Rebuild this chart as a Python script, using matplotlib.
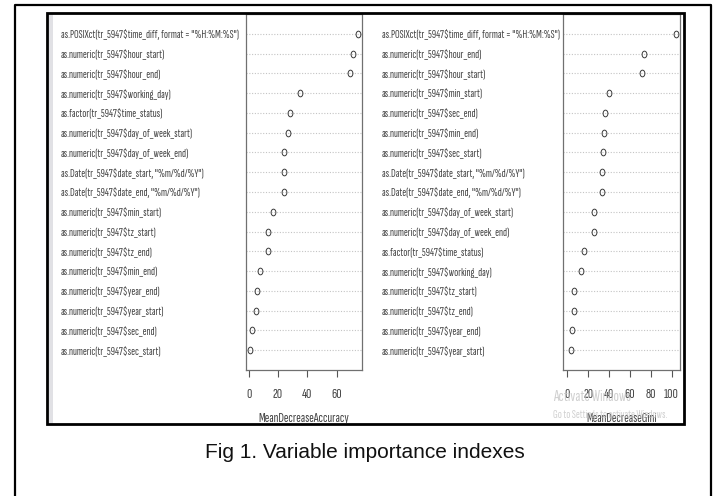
import matplotlib
matplotlib.use("Agg")
import matplotlib.pyplot as plt
import numpy as np
from matplotlib.patches import Rectangle
from matplotlib.lines import Line2D
from matplotlib.markers import MarkerStyle
from matplotlib.transforms import Affine2D, Bbox, TransformedBbox

# data (top row first)
acc_labels = [
    'as.POSIXct(tr_5947$time_diff, format = "%H:%M:%S")',
    'as.numeric(tr_5947$hour_start)',
    'as.numeric(tr_5947$hour_end)',
    'as.numeric(tr_5947$working_day)',
    'as.factor(tr_5947$time_status)',
    'as.numeric(tr_5947$day_of_week_start)',
    'as.numeric(tr_5947$day_of_week_end)',
    'as.Date(tr_5947$date_start, "%m/%d/%Y")',
    'as.Date(tr_5947$date_end, "%m/%d/%Y")',
    'as.numeric(tr_5947$min_start)',
    'as.numeric(tr_5947$tz_start)',
    'as.numeric(tr_5947$tz_end)',
    'as.numeric(tr_5947$min_end)',
    'as.numeric(tr_5947$year_end)',
    'as.numeric(tr_5947$year_start)',
    'as.numeric(tr_5947$sec_end)',
    'as.numeric(tr_5947$sec_start)',
]
acc_values = [74.4, 71.2, 68.9, 35.0, 28.0, 27.0, 24.3, 24.3, 23.9,
              16.8, 13.4, 13.0, 7.9, 5.7, 5.0, 2.0, 1.1]
acc_ticks = [0, 20, 40, 60]

gini_labels = [
    'as.POSIXct(tr_5947$time_diff, format = "%H:%M:%S")',
    'as.numeric(tr_5947$hour_end)',
    'as.numeric(tr_5947$hour_start)',
    'as.numeric(tr_5947$min_start)',
    'as.numeric(tr_5947$sec_end)',
    'as.numeric(tr_5947$min_end)',
    'as.numeric(tr_5947$sec_start)',
    'as.Date(tr_5947$date_start, "%m/%d/%Y")',
    'as.Date(tr_5947$date_end, "%m/%d/%Y")',
    'as.numeric(tr_5947$day_of_week_start)',
    'as.numeric(tr_5947$day_of_week_end)',
    'as.factor(tr_5947$time_status)',
    'as.numeric(tr_5947$working_day)',
    'as.numeric(tr_5947$tz_start)',
    'as.numeric(tr_5947$tz_end)',
    'as.numeric(tr_5947$year_end)',
    'as.numeric(tr_5947$year_start)',
]
gini_values = [103.9, 74.0, 71.4, 39.6, 36.4, 35.0, 33.8, 33.1, 32.9,
               26.0, 25.3, 16.2, 13.0, 6.5, 6.3, 4.0, 3.9]
gini_ticks = [0, 20, 40, 60, 80, 100]

W, H = 715, 496
COND = ['Sofia Sans Extra Condensed', 'Roboto Condensed', 'DejaVu Sans']
GREY = '#444444'

def box(x0, y0, x1, y1):
    return [x0 / W, 1 - y1 / H, (x1 - x0) / W, (y1 - y0) / H]

fig = plt.figure(figsize=(W / 100, H / 100), dpi=100)

# screenshot frame
clip = TransformedBbox(Bbox.from_extents(47 / W, 1 - 423 / H, 684 / W, 1 - 12 / H), fig.transFigure)
fig.patches.append(Rectangle((48.5 / W, 1 - 423 / H), 4.5 / W, 410 / H, transform=fig.transFigure,
                             facecolor='#e1e1e5', edgecolor='none', zorder=0))

circle = MarkerStyle('o', fillstyle='none', transform=Affine2D().scale(0.72, 1.0))

def panel(rect, labels, values, ticks, xmin, xlabel, pad):
    ax = fig.add_axes(rect)
    n = len(values)
    rows = np.arange(n, 0, -1)
    lo = xmin if xmin is not None else min(values)
    hi = max(values)
    ext = 0.04 * (hi - lo)
    ax.set_xlim(lo - ext, hi + ext)
    ax.set_ylim(0, n + 1)
    ax.hlines(rows, lo - ext, hi + ext, colors='#c4c4c4', linestyles=(0, (1, 1.5)), lw=0.8)
    ax.plot(values, rows, linestyle='none', marker=circle, ms=4.8, mew=0.7, color='#3a3a3a')
    ax.set_yticks(rows, labels, ha='left', family=COND, fontsize=8.5, color=GREY)
    ax.tick_params(axis='y', length=0, pad=pad)
    ax.set_xticks(ticks, [str(t) for t in ticks], family=COND, fontsize=10.5, color=GREY)
    ax.tick_params(axis='x', length=5, width=0.8, color='#555555', direction='out', pad=8)
    for s in ax.spines.values():
        s.set_color('#707070')
        s.set_linewidth(0.9)
    lab = ax.set_xlabel(xlabel, family=COND, fontsize=10, color=GREY, labelpad=8)
    lab.set_clip_on(True)
    lab.set_clip_box(clip)
    return ax

panel(box(246, 14, 362, 370), acc_labels, acc_values, acc_ticks, None,
      'MeanDecreaseAccuracy', (246 - 61) * 0.72)
panel(box(563, 14, 680, 370), gini_labels, gini_values, gini_ticks, 0,
      'MeanDecreaseGini', (563 - 382) * 0.72)

# windows watermark over the right axis
fig.text(553 / W, 1 - 401 / H, 'Activate Windows', family=COND, fontsize=11.5,
         color='#c4c4c4', alpha=0.8, zorder=5)
fig.text(553 / W, 1 - 418 / H, 'Go to Settings to activate Windows.', family=COND, fontsize=8.5,
         color='#c4c4c4', alpha=0.8, zorder=5)

# frames
fig.patches.append(Rectangle((47 / W, 1 - 423.5 / H), 637 / W, 411 / H, transform=fig.transFigure,
                             facecolor='none', edgecolor='black', lw=2.0, zorder=10))
fig.lines.append(Line2D([15 / W, 15 / W, 711 / W, 711 / W], [0, 1 - 5 / H, 1 - 5 / H, 0],
                        transform=fig.transFigure, color='black', lw=1.6, zorder=10))

fig.text(365 / W, 1 - 458 / H, 'Fig 1. Variable importance indexes', ha='center', va='baseline',
         family=['Liberation Sans', 'DejaVu Sans'], fontsize=15, color='#111111')

fig.savefig('out.png', dpi=100)
